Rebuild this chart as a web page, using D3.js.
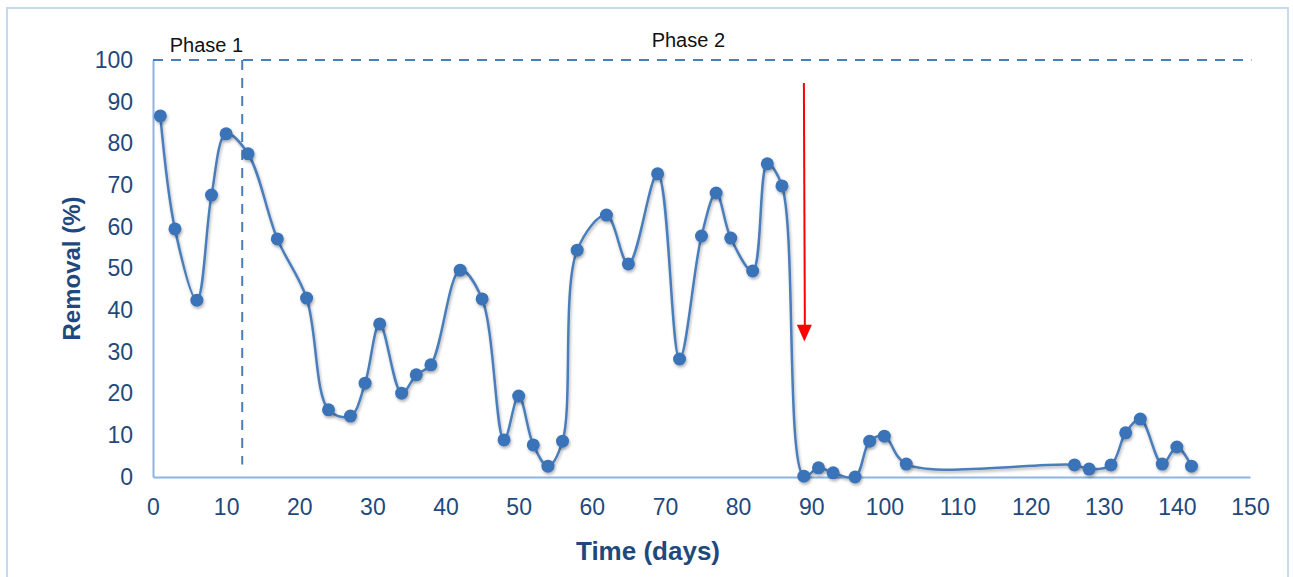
<!DOCTYPE html>
<html>
<head>
<meta charset="utf-8">
<script src="https://cdn.jsdelivr.net/npm/d3@7"></script>
<style>
  body { margin: 0; background: #fff; }
  text { font-family: "Liberation Sans", Arial, sans-serif; }
</style>
</head>
<body>
<svg width="1293" height="577"></svg>
<script>
// Data
let days = [1, 3, 6, 8, 10, 13, 17, 21, 24, 27, 29, 31, 34, 36, 38, 42, 45, 48, 50, 52, 54, 56, 58,
    62, 65, 69, 72, 75, 77, 79, 82, 84, 86, 89, 91, 93, 96, 98, 100, 103,
    126, 128, 131, 133, 135, 138, 140, 142]
let removal = [86.6, 59.5, 42.4, 67.6, 82.3, 77.5, 57.1, 42.9, 16.1, 14.6, 22.5, 36.7, 20.1, 24.5, 26.9, 49.6, 42.7, 8.9, 19.4, 7.7, 2.6, 8.6, 54.4,
    62.8, 51.1, 72.7, 28.3, 57.8, 68.1, 57.3, 49.4, 75.1, 69.8, 0.2, 2.2, 1.0, 0, 8.6, 9.8, 3.1,
    2.9, 1.9, 2.9, 10.6, 13.9, 3.1, 7.2, 2.6]
let xTicks = d3.range(0, 151, 10)
let yTicks = d3.range(0, 101, 10)
let phaseBoundary = 12.2
let arrowDay = 89

let data = days.map((d, i) => ({ day: d, value: removal[i] }))

let svg = d3.select('svg')
let margin = { left: 153, right: 43, top: 60, bottom: 100 }
let width = 1293 - margin.left - margin.right
let height = 577 - margin.top - margin.bottom

let scale = {
    x: d3.scaleLinear().domain([0, 150]).range([0, width]),
    y: d3.scaleLinear().domain([0, 100]).range([height, 0])
}

let dark = '#1f497d'
let lineBlue = '#4a7ebb'
let axisBlue = '#8eb4e3'

// outer frame
svg.append('rect')
    .attr('x', 7).attr('y', 8)
    .attr('width', 1281).attr('height', 600)
    .attr('fill', 'none')
    .attr('stroke', '#c6d9f1')
    .attr('stroke-width', 2)

let defs = svg.append('defs')
let shadow = defs.append('filter').attr('id', 'shadow')
    .attr('x', '-50%').attr('y', '-50%').attr('width', '200%').attr('height', '200%')
shadow.append('feDropShadow')
    .attr('dx', 1).attr('dy', 2).attr('stdDeviation', 1.5)
    .attr('flood-color', '#000').attr('flood-opacity', 0.3)

let g = svg.append('g')
    .attr('transform', `translate(${margin.left}, ${margin.top})`)

// axes
let xAxis = d3.axisBottom(scale.x).tickValues(xTicks).tickSize(0).tickPadding(22)
let yAxis = d3.axisLeft(scale.y).tickValues(yTicks).tickSize(0).tickPadding(20)

let gx = g.append('g')
    .attr('transform', `translate(0,${height})`)
    .call(xAxis)
gx.select('.domain').attr('stroke', axisBlue).attr('stroke-width', 2)
gx.selectAll('text').attr('fill', dark).attr('font-size', 23)

let gy = g.append('g').call(yAxis)
gy.select('.domain').attr('stroke', axisBlue).attr('stroke-width', 2)
gy.selectAll('text').attr('fill', dark).attr('font-size', 23)

// phase lines
g.append('line')
    .attr('x1', scale.x(0)).attr('x2', scale.x(150.2))
    .attr('y1', scale.y(100)).attr('y2', scale.y(100))
    .attr('stroke', lineBlue).attr('stroke-width', 2)
    .attr('stroke-dasharray', '10,8')
g.append('line')
    .attr('x1', scale.x(phaseBoundary)).attr('x2', scale.x(phaseBoundary))
    .attr('y1', scale.y(100)).attr('y2', scale.y(3))
    .attr('stroke', lineBlue).attr('stroke-width', 2)
    .attr('stroke-dasharray', '10,8')

g.append('text')
    .attr('x', scale.x(7.3)).attr('y', scale.y(102))
    .attr('text-anchor', 'middle')
    .attr('font-size', 20).attr('fill', '#111')
    .text('Phase 1')
g.append('text')
    .attr('x', scale.x(73.2)).attr('y', scale.y(103.1))
    .attr('text-anchor', 'middle')
    .attr('font-size', 20).attr('fill', '#111')
    .text('Phase 2')

// series line
let line = d3.line()
    .x(d => scale.x(d.day))
    .y(d => scale.y(d.value))
    .curve(d3.curveCatmullRom.alpha(0.5))

g.append('path')
    .datum(data)
    .attr('fill', 'none')
    .attr('stroke', lineBlue)
    .attr('stroke-width', 2.5)
    .attr('filter', 'url(#shadow)')
    .attr('d', line)

g.selectAll('circle')
    .data(data)
    .join('circle')
    .attr('cx', d => scale.x(d.day))
    .attr('cy', d => scale.y(d.value))
    .attr('r', 6.5)
    .attr('fill', '#3b73b9')
    .attr('filter', 'url(#shadow)')

// red arrow
let ax = scale.x(arrowDay)
g.append('line')
    .attr('x1', ax).attr('x2', ax + 1)
    .attr('y1', scale.y(94.5)).attr('y2', scale.y(35))
    .attr('stroke', '#ff0000').attr('stroke-width', 2)
g.append('path')
    .attr('d', `M${ax - 7},${scale.y(36.5)} L${ax + 8},${scale.y(36.5)} L${ax + 0.5},${scale.y(32.5)} Z`)
    .attr('fill', '#ff0000')

// axis titles
svg.append('text')
    .attr('x', 648).attr('y', 560)
    .attr('text-anchor', 'middle')
    .attr('font-size', 26).attr('font-weight', 'bold').attr('fill', dark)
    .text('Time (days)')
svg.append('text')
    .attr('transform', `translate(80, ${margin.top + scale.y(50)}) rotate(-90)`)
    .attr('text-anchor', 'middle')
    .attr('font-size', 24).attr('font-weight', 'bold').attr('fill', dark)
    .text('Removal (%)')
</script>
</body>
</html>
